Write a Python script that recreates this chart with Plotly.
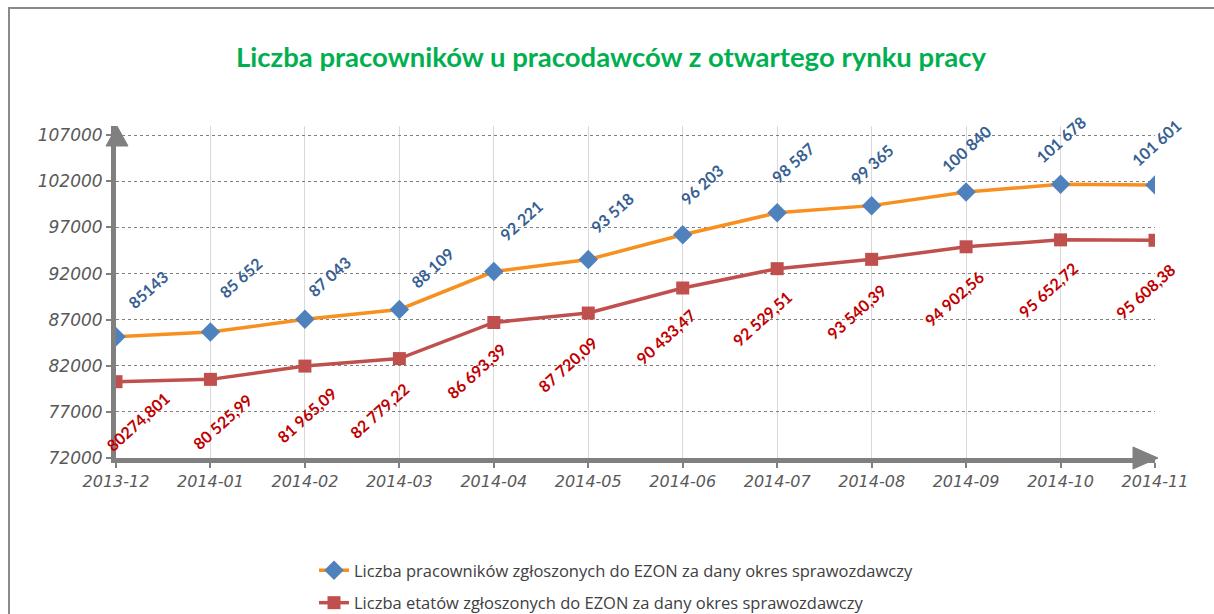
import plotly.graph_objects as go

months = ["2013-12", "2014-01", "2014-02", "2014-03", "2014-04", "2014-05",
          "2014-06", "2014-07", "2014-08", "2014-09", "2014-10", "2014-11"]
pracownicy = [85143, 85652, 87043, 88109, 92221, 93518, 96203, 98587, 99365, 100840, 101678, 101601]
etaty = [80274.801, 80525.99, 81965.09, 82779.22, 86693.39, 87720.09, 90433.47, 92529.51,
         93540.39, 94902.56, 95652.72, 95608.38]
pracownicy_labels = ["85143", "85 652", "87 043", "88 109", "92 221", "93 518", "96 203",
                     "98 587", "99 365", "100 840", "101 678", "101 601"]
etaty_labels = ["80274,801", "80 525,99", "81 965,09", "82 779,22", "86 693,39", "87 720,09",
                "90 433,47", "92 529,51", "93 540,39", "94 902,56", "95 652,72", "95 608,38"]
y_ticks = [72000, 77000, 82000, 87000, 92000, 97000, 102000, 107000]

name1 = "Liczba pracowników zgłoszonych do EZON za dany okres sprawozdawczy"
name2 = "Liczba etatów zgłoszonych do EZON za dany okres sprawozdawczy"

# label placement offsets (pixels) - styling only
blue_dx = [32, 30, 24, 33, 27, 24, 19, 16, 0, 0, 0, 1]
blue_dy = [47, 55, 43, 42, 51, 47, 50, 50, 41, 44, 45, 43]
red_dx = [22, 12, 2, -20, -17, -21, -17, -15, -15, -12, -12, -10]
red_dy = [40, 42, 48, 52, 48, 51, 48, 50, 52, 52, 50, 51]

W, H = 1214, 660
L, R, T = 116, 59, 126
AXIS_Y = 458
B = H - AXIS_Y
pw, ph = W - L - R, H - T - B


def px(x):
    return (x - L) / pw


def py(y):
    return (H - B - y) / ph


fig = go.Figure()
fig.add_trace(go.Scatter(
    x=months, y=pracownicy, name=name1, mode="lines+markers",
    line=dict(color="#F7901E", width=3.5),
    marker=dict(symbol="diamond", size=15, color="#4F81BD"),
    legendgroup="a"))
fig.add_trace(go.Scatter(
    x=months, y=etaty, name=name2, mode="lines+markers",
    line=dict(color="#C0504D", width=3.5),
    marker=dict(symbol="square", size=13, color="#C0504D"),
    legendgroup="b"))

ann = []
for i, m in enumerate(months):
    ann.append(dict(x=m, y=pracownicy[i], xref="x", yref="y", text=pracownicy_labels[i],
                    showarrow=False, textangle=-42, xshift=blue_dx[i], yshift=blue_dy[i],
                    font=dict(family="Lato", size=16, color="#376092", weight="bold")))
    ann.append(dict(x=m, y=etaty[i], xref="x", yref="y", text=etaty_labels[i],
                    showarrow=False, textangle=-42, xshift=red_dx[i], yshift=-red_dy[i],
                    font=dict(family="Lato", size=16, color="#C00000", weight="bold")))

shapes = [
    # outer border
    dict(type="rect", xref="paper", yref="paper", x0=px(9), x1=px(1230), y0=py(650), y1=py(8),
         line=dict(color="#8A8A8A", width=2), layer="below"),
    # y-axis arrow head
    dict(type="path", xref="paper", yref="paper",
         path=f"M {px(106)} {py(146)} L {px(117)} {py(126)} L {px(128)} {py(146)} Z",
         fillcolor="#808080", line=dict(color="#808080", width=1)),
    # x-axis arrow head
    dict(type="path", xref="paper", yref="paper",
         path=f"M {px(1133)} {py(447)} L {px(1158)} {py(458)} L {px(1133)} {py(469)} Z",
         fillcolor="#808080", line=dict(color="#808080", width=1)),
]

fig.update_layout(
    width=W, height=H,
    margin=dict(l=L, r=R, t=T, b=B),
    paper_bgcolor="white", plot_bgcolor="white",
    title=dict(text="Liczba pracowników u pracodawców z otwartego rynku pracy",
               x=611 / W, xref="container", xanchor="center",
               y=1 - 57 / H, yref="container", yanchor="middle",
               font=dict(family="Lato", size=27.5, color="#00B050", weight="bold")),
    xaxis=dict(type="category", range=[0, 11], showgrid=True, gridcolor="#D9D9D9", gridwidth=1,
               showline=True, linecolor="#808080", linewidth=5,
               ticks="outside", ticklen=5, tickwidth=2, tickcolor="#808080",
               tickfont=dict(family="DejaVu Sans", size=16, color="#595959", style="italic"),
               zeroline=False),
    yaxis=dict(range=[72000, 108000], tickvals=y_ticks, ticktext=[str(v) for v in y_ticks],
               showgrid=True, gridcolor="#7F7F7F", gridwidth=1, griddash="dot",
               showline=True, linecolor="#808080", linewidth=5,
               ticks="outside", ticklen=5, tickwidth=2, tickcolor="#808080",
               tickfont=dict(family="DejaVu Sans", size=17, color="#595959", style="italic"),
               zeroline=False),
    legend=dict(x=px(314), xanchor="left", y=py(553), yanchor="top",
                font=dict(family="Open Sans", size=16.5, color="#404040"),
                traceorder="grouped", tracegroupgap=8, itemwidth=30,
                bgcolor="rgba(0,0,0,0)"),
    showlegend=True,
    annotations=ann,
    shapes=shapes,
)

fig.write_html("out.html", config={"displayModeBar": False},
               post_script="document.body.style.margin='0';document.body.style.overflow='hidden';")
